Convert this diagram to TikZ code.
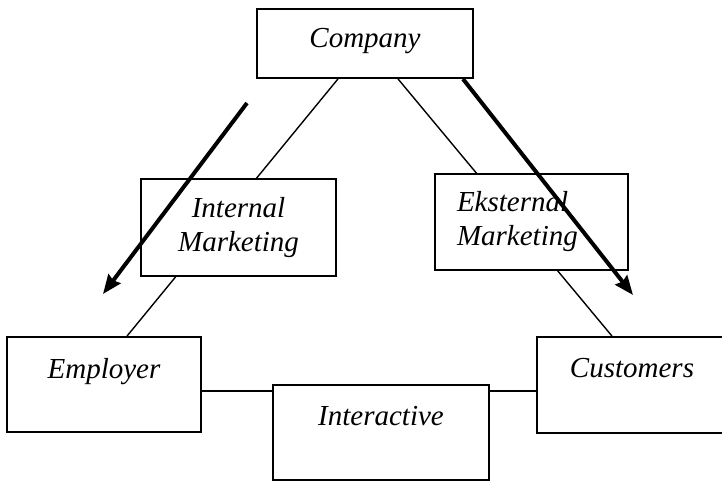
\documentclass[tikz,border=0pt]{standalone}
\usepackage{fontspec}
\setmainfont{Liberation Serif}
\usepackage{tikz}
\usetikzlibrary{arrows.meta, backgrounds}
\tikzset{
  box/.style={draw, line width=1.8pt, fill=white, inner sep=0pt, font=\fontsize{29}{34}\selectfont\itshape},
  link/.style={line width=1.4pt},
  flow/.style={line width=4pt, -{Stealth[length=19pt, width=15pt, inset=2pt]}}
}

\begin{document}
\begin{tikzpicture}[x=1pt, y=-1pt]
            \useasboundingbox (0,0) rectangle (722,482);

            % Top of the triangle
            \node[box, minimum width=216pt, text height=38pt, text depth=31pt] (company) at (365,43.5) {Company};

            % Marketing boxes on the sides
            \node[box, minimum width=195pt, minimum height=97pt, align=center] (internal) at (238.5,227.5) {Internal\\Marketing};
            \node[box, minimum height=96pt, inner xsep=22pt, text width=149pt, align=left] (external) at (531.5,222) {Eksternal\\Marketing};

            % Bottom corners
            \node[box, minimum width=194pt, text height=41pt, text depth=54pt] (employer) at (104,384.5) {Employer};
            \node[box, minimum width=190pt, text height=40pt, text depth=56pt] (customers) at (632,385) {Customers};
            \node[box, minimum width=216pt, text height=40pt, text depth=55pt] (interactive) at (381,432.5) {Interactive};

            % Thin links behind the boxes
            \coordinate (emplink) at ([yshift=-6.5pt]employer.east);
            \coordinate (cuslink) at ([yshift=-6pt]customers.west);
            \begin{scope}[on background layer]
              \draw[link] ([xshift=-27pt]company.south) -- ([xshift=23pt]employer.north);
              \draw[link] ([xshift=33pt]company.south) -- ([xshift=-20pt]customers.north);
              \draw[link] (emplink) -- (emplink -| interactive.west);
              \draw[link] (cuslink) -- (cuslink -| interactive.east);
            \end{scope}

            % Thick arrows on top
            \coordinate (inttail) at (247,103);
            \coordinate (inttip) at (103,294);
            \coordinate (exttail) at (463,79);
            \coordinate (exttip) at (633,295);
            \draw[flow] (inttail) -- (inttip);
            \draw[flow] (exttail) -- (exttip);
\end{tikzpicture}
\end{document}
